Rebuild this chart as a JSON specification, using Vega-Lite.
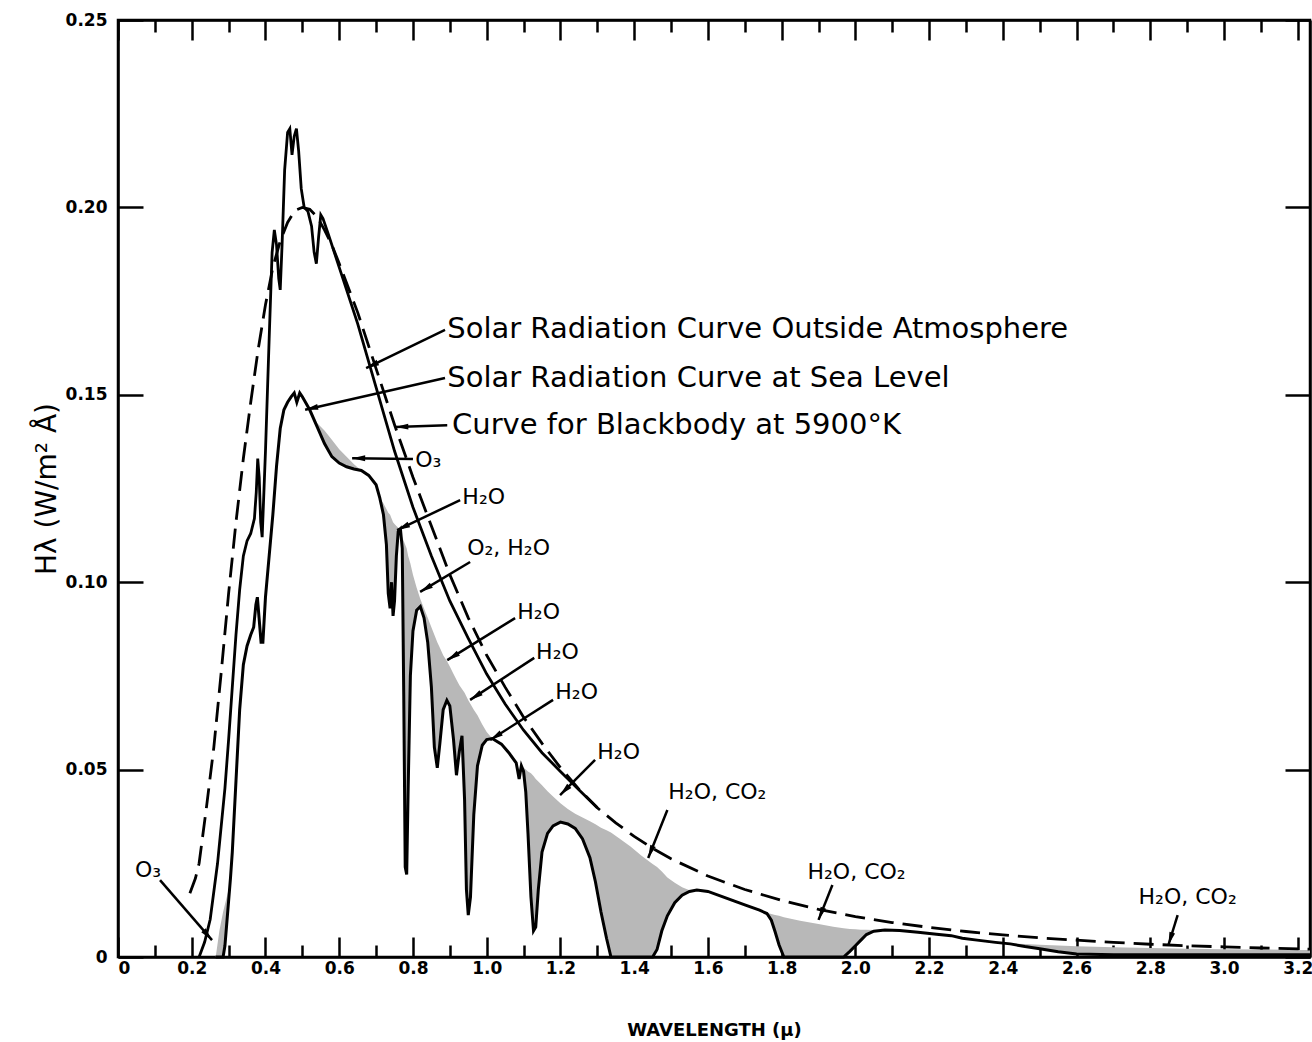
{
"$schema": "https://vega.github.io/schema/vega-lite/v6.json",
"width": 1192,
"height": 937,
"autosize": {"type": "none"},
"padding": {"left": 118, "top": 20, "right": 2, "bottom": 85},
"background": "white",
"config": {
  "view": {"stroke": "black", "strokeWidth": 2.5},
  "font": "DejaVu Sans",
  "axis": {"domainColor": "black", "domainWidth": 2.5, "tickColor": "black", "tickWidth": 2.5, "labelColor": "black", "titleColor": "black", "grid": false, "labelFont": "DejaVu Sans", "titleFont": "DejaVu Sans", "labelOverlap": false}
},
"datasets": {
  "bb": [
    {"x":0.195,"y":0.017},{"x":0.21,"y":0.021},{"x":0.22,"y":0.025},{"x":0.24,"y":0.04},{"x":0.26,"y":0.056},{"x":0.28,"y":0.076},{"x":0.30,"y":0.097},{"x":0.32,"y":0.116},{"x":0.34,"y":0.133},{"x":0.36,"y":0.148},{"x":0.38,"y":0.162},{"x":0.40,"y":0.174},{"x":0.42,"y":0.184},{"x":0.44,"y":0.191},{"x":0.46,"y":0.196},{"x":0.48,"y":0.1992},{"x":0.50,"y":0.2},{"x":0.52,"y":0.1995},{"x":0.54,"y":0.1975},{"x":0.56,"y":0.194},{"x":0.58,"y":0.19},{"x":0.60,"y":0.185},{"x":0.65,"y":0.172},{"x":0.70,"y":0.157},{"x":0.75,"y":0.142},{"x":0.80,"y":0.128},{"x":0.85,"y":0.115},{"x":0.90,"y":0.102},{"x":0.95,"y":0.0905},{"x":1.0,"y":0.0805},{"x":1.05,"y":0.072},{"x":1.1,"y":0.064},{"x":1.15,"y":0.057},{"x":1.2,"y":0.0505},{"x":1.25,"y":0.0448},{"x":1.3,"y":0.0398},{"x":1.35,"y":0.0358},{"x":1.4,"y":0.0322},{"x":1.45,"y":0.029},{"x":1.5,"y":0.0262},{"x":1.6,"y":0.0216},{"x":1.7,"y":0.018},{"x":1.8,"y":0.0151},{"x":1.9,"y":0.0127},{"x":2.0,"y":0.0108},{"x":2.1,"y":0.0092},{"x":2.2,"y":0.0079},{"x":2.3,"y":0.0068},{"x":2.4,"y":0.0059},{"x":2.5,"y":0.0051},{"x":2.6,"y":0.0045},{"x":2.7,"y":0.0039},{"x":2.8,"y":0.0034},{"x":2.9,"y":0.003},{"x":3.0,"y":0.0027},{"x":3.1,"y":0.0024},{"x":3.233,"y":0.0021}
  ],
  "outside": [
    {"x":0.22,"y":0.0},{"x":0.235,"y":0.004},{"x":0.25,"y":0.01},{"x":0.27,"y":0.025},{"x":0.29,"y":0.045},{"x":0.30,"y":0.058},{"x":0.31,"y":0.072},{"x":0.32,"y":0.086},{"x":0.33,"y":0.098},{"x":0.34,"y":0.107},{"x":0.35,"y":0.111},{"x":0.36,"y":0.113},{"x":0.37,"y":0.117},{"x":0.375,"y":0.124},{"x":0.379,"y":0.133},{"x":0.383,"y":0.128},{"x":0.387,"y":0.116},{"x":0.391,"y":0.112},{"x":0.40,"y":0.135},{"x":0.41,"y":0.165},{"x":0.418,"y":0.188},{"x":0.424,"y":0.194},{"x":0.43,"y":0.19},{"x":0.436,"y":0.181},{"x":0.44,"y":0.178},{"x":0.445,"y":0.19},{"x":0.452,"y":0.21},{"x":0.46,"y":0.22},{"x":0.466,"y":0.221},{"x":0.472,"y":0.214},{"x":0.478,"y":0.219},{"x":0.484,"y":0.221},{"x":0.49,"y":0.215},{"x":0.497,"y":0.205},{"x":0.505,"y":0.2},{"x":0.515,"y":0.199},{"x":0.525,"y":0.195},{"x":0.532,"y":0.188},{"x":0.538,"y":0.185},{"x":0.544,"y":0.192},{"x":0.55,"y":0.198},{"x":0.556,"y":0.197},{"x":0.57,"y":0.193},{"x":0.60,"y":0.184},{"x":0.65,"y":0.169},{"x":0.70,"y":0.152},{"x":0.75,"y":0.135},{"x":0.80,"y":0.12},{"x":0.85,"y":0.107},{"x":0.90,"y":0.095},{"x":0.95,"y":0.085},{"x":1.0,"y":0.0755},{"x":1.05,"y":0.0675},{"x":1.1,"y":0.0605},{"x":1.15,"y":0.0545},{"x":1.2,"y":0.0495},{"x":1.25,"y":0.0446},{"x":1.3,"y":0.0398}
  ],
  "sea": [
    {"x":0.265,"sea":0,"top":0},{"x":0.275,"sea":0,"top":0.007},{"x":0.285,"sea":0,"top":0.012},{"x":0.29,"sea":0.003,"top":0.014},{"x":0.295,"sea":0.009,"top":0.016},{"x":0.30,"sea":0.015,"top":0.018},{"x":0.305,"sea":0.021,"top":0.021},{"x":0.31,"sea":0.028,"top":0.028},{"x":0.32,"sea":0.047,"top":0.047},{"x":0.33,"sea":0.066,"top":0.066},{"x":0.34,"sea":0.078,"top":0.078},{"x":0.35,"sea":0.083,"top":0.083},{"x":0.36,"sea":0.086,"top":0.086},{"x":0.368,"sea":0.088,"top":0.088},{"x":0.374,"sea":0.094,"top":0.094},{"x":0.378,"sea":0.096,"top":0.096},{"x":0.383,"sea":0.09,"top":0.09},{"x":0.388,"sea":0.084,"top":0.084},{"x":0.393,"sea":0.084,"top":0.084},{"x":0.40,"sea":0.096,"top":0.096},{"x":0.41,"sea":0.107,"top":0.107},{"x":0.42,"sea":0.118,"top":0.118},{"x":0.43,"sea":0.131,"top":0.131},{"x":0.44,"sea":0.141,"top":0.141},{"x":0.45,"sea":0.146,"top":0.146},{"x":0.46,"sea":0.148,"top":0.148},{"x":0.47,"sea":0.1495,"top":0.1495},{"x":0.478,"sea":0.1505,"top":0.1505},{"x":0.485,"sea":0.148,"top":0.148},{"x":0.493,"sea":0.1505,"top":0.1505},{"x":0.50,"sea":0.1495,"top":0.1495},{"x":0.52,"sea":0.146,"top":0.146},{"x":0.54,"sea":0.1415,"top":0.1425},{"x":0.56,"sea":0.137,"top":0.1405},{"x":0.58,"sea":0.1335,"top":0.138},{"x":0.60,"sea":0.1318,"top":0.1355},{"x":0.62,"sea":0.1308,"top":0.1335},{"x":0.64,"sea":0.1302,"top":0.1315},{"x":0.66,"sea":0.1298,"top":0.1298},{"x":0.68,"sea":0.1285,"top":0.1285},{"x":0.70,"sea":0.126,"top":0.126},{"x":0.71,"sea":0.1225,"top":0.1225},{"x":0.72,"sea":0.118,"top":0.121},{"x":0.728,"sea":0.11,"top":0.1195},{"x":0.733,"sea":0.097,"top":0.1185},{"x":0.738,"sea":0.093,"top":0.118},{"x":0.742,"sea":0.1,"top":0.117},{"x":0.746,"sea":0.091,"top":0.116},{"x":0.75,"sea":0.095,"top":0.1155},{"x":0.755,"sea":0.107,"top":0.115},{"x":0.76,"sea":0.1135,"top":0.1145},{"x":0.766,"sea":0.1142,"top":0.1142},{"x":0.771,"sea":0.109,"top":0.112},{"x":0.775,"sea":0.07,"top":0.111},{"x":0.779,"sea":0.024,"top":0.11},{"x":0.783,"sea":0.022,"top":0.109},{"x":0.787,"sea":0.045,"top":0.107},{"x":0.793,"sea":0.075,"top":0.105},{"x":0.80,"sea":0.087,"top":0.102},{"x":0.81,"sea":0.0925,"top":0.0985},{"x":0.82,"sea":0.0935,"top":0.0955},{"x":0.83,"sea":0.0905,"top":0.093},{"x":0.84,"sea":0.084,"top":0.0905},{"x":0.85,"sea":0.072,"top":0.088},{"x":0.858,"sea":0.056,"top":0.086},{"x":0.866,"sea":0.0505,"top":0.084},{"x":0.873,"sea":0.057,"top":0.0825},{"x":0.882,"sea":0.066,"top":0.0805},{"x":0.892,"sea":0.0685,"top":0.079},{"x":0.90,"sea":0.067,"top":0.0775},{"x":0.91,"sea":0.058,"top":0.0755},{"x":0.918,"sea":0.0485,"top":0.074},{"x":0.926,"sea":0.055,"top":0.0725},{"x":0.933,"sea":0.059,"top":0.0715},{"x":0.94,"sea":0.042,"top":0.0705},{"x":0.945,"sea":0.018,"top":0.0695},{"x":0.95,"sea":0.0112,"top":0.0685},{"x":0.956,"sea":0.016,"top":0.0675},{"x":0.965,"sea":0.038,"top":0.066},{"x":0.975,"sea":0.051,"top":0.0645},{"x":0.988,"sea":0.0565,"top":0.062},{"x":1.0,"sea":0.058,"top":0.06},{"x":1.015,"sea":0.0583,"top":0.0583},{"x":1.04,"sea":0.0568,"top":0.0568},{"x":1.06,"sea":0.0545,"top":0.0545},{"x":1.08,"sea":0.0518,"top":0.0518},{"x":1.088,"sea":0.0475,"top":0.05},{"x":1.094,"sea":0.051,"top":0.051},{"x":1.10,"sea":0.0495,"top":0.0505},{"x":1.106,"sea":0.044,"top":0.05},{"x":1.112,"sea":0.033,"top":0.0495},{"x":1.12,"sea":0.016,"top":0.049},{"x":1.127,"sea":0.007,"top":0.0483},{"x":1.133,"sea":0.008,"top":0.0475},{"x":1.14,"sea":0.018,"top":0.0468},{"x":1.15,"sea":0.028,"top":0.0458},{"x":1.165,"sea":0.033,"top":0.0442},{"x":1.18,"sea":0.035,"top":0.0428},{"x":1.20,"sea":0.036,"top":0.041},{"x":1.22,"sea":0.0355,"top":0.0395},{"x":1.24,"sea":0.0343,"top":0.0382},{"x":1.26,"sea":0.0315,"top":0.0372},{"x":1.28,"sea":0.0265,"top":0.0362},{"x":1.295,"sea":0.02,"top":0.0354},{"x":1.31,"sea":0.012,"top":0.0345},{"x":1.325,"sea":0.005,"top":0.0338},{"x":1.337,"sea":0,"top":0.0332},{"x":1.36,"sea":0,"top":0.0316},{"x":1.39,"sea":0,"top":0.0295},{"x":1.42,"sea":0,"top":0.027},{"x":1.45,"sea":0,"top":0.0248},{"x":1.462,"sea":0.002,"top":0.024},{"x":1.475,"sea":0.007,"top":0.0228},{"x":1.49,"sea":0.011,"top":0.0212},{"x":1.51,"sea":0.0145,"top":0.0198},{"x":1.53,"sea":0.0165,"top":0.0186},{"x":1.55,"sea":0.0175,"top":0.0178},{"x":1.57,"sea":0.0179,"top":0.0179},{"x":1.60,"sea":0.0175,"top":0.0175},{"x":1.65,"sea":0.0157,"top":0.0157},{"x":1.70,"sea":0.0139,"top":0.0139},{"x":1.74,"sea":0.0125,"top":0.0125},{"x":1.76,"sea":0.0116,"top":0.0118},{"x":1.772,"sea":0.0098,"top":0.0115},{"x":1.782,"sea":0.0068,"top":0.0112},{"x":1.793,"sea":0.0032,"top":0.011},{"x":1.806,"sea":0,"top":0.0106},{"x":1.85,"sea":0,"top":0.0097},{"x":1.90,"sea":0,"top":0.0088},{"x":1.94,"sea":0,"top":0.0081},{"x":1.968,"sea":0,"top":0.0077},{"x":1.985,"sea":0.0015,"top":0.0075},{"x":2.0,"sea":0.003,"top":0.0074},{"x":2.015,"sea":0.0045,"top":0.0073},{"x":2.03,"sea":0.006,"top":0.0073},{"x":2.05,"sea":0.0069,"top":0.0072},{"x":2.08,"sea":0.0072,"top":0.0072},{"x":2.12,"sea":0.0071,"top":0.0071},{"x":2.17,"sea":0.0066,"top":0.0066},{"x":2.22,"sea":0.0061,"top":0.0061},{"x":2.26,"sea":0.0057,"top":0.0057},{"x":2.29,"sea":0.005,"top":0.005},{"x":2.33,"sea":0.0045,"top":0.0045},{"x":2.38,"sea":0.0039,"top":0.0039},{"x":2.42,"sea":0.0035,"top":0.0036},{"x":2.46,"sea":0.0028,"top":0.0035},{"x":2.50,"sea":0.0022,"top":0.0033},{"x":2.55,"sea":0.0014,"top":0.0031},{"x":2.60,"sea":0.0008,"top":0.0029},{"x":2.70,"sea":0.0006,"top":0.0026},{"x":2.80,"sea":0.0006,"top":0.0024},{"x":2.90,"sea":0.0006,"top":0.0022},{"x":3.00,"sea":0.0006,"top":0.0021},{"x":3.10,"sea":0.0006,"top":0.002},{"x":3.20,"sea":0.0006,"top":0.0019},{"x":3.233,"sea":0.0006,"top":0.0019}
  ],
  "notes": [
    {"t":"Solar Radiation Curve Outside Atmosphere","kind":"main","x":0.893,"y":0.1676},
    {"t":"Solar Radiation Curve at Sea Level","kind":"main","x":0.893,"y":0.1545},
    {"t":"Curve  for Blackbody at 5900°K","kind":"main","x":0.906,"y":0.1419},
    {"t":"O₃","kind":"chem","x":0.806,"y":0.1326},
    {"t":"H₂O","kind":"chem","x":0.934,"y":0.1227},
    {"t":"O₂,  H₂O","kind":"chem","x":0.947,"y":0.1091},
    {"t":"H₂O","kind":"chem","x":1.083,"y":0.092},
    {"t":"H₂O","kind":"chem","x":1.134,"y":0.0814},
    {"t":"H₂O","kind":"chem","x":1.186,"y":0.0707},
    {"t":"H₂O","kind":"chem","x":1.30,"y":0.0547},
    {"t":"H₂O,  CO₂","kind":"chem","x":1.4925,"y":0.044},
    {"t":"H₂O,  CO₂","kind":"chem","x":1.87,"y":0.0227},
    {"t":"H₂O,  CO₂","kind":"chem","x":2.768,"y":0.016},
    {"t":"O₃","kind":"chem","x":0.046,"y":0.0232}
  ],
  "arrows": [
    {"x":0.887,"y":0.1673,"x2":0.673,"y2":0.1571},
    {"x":0.887,"y":0.1545,"x2":0.5075,"y2":0.146},
    {"x":0.893,"y":0.1419,"x2":0.752,"y2":0.1414},
    {"x":0.80,"y":0.1329,"x2":0.635,"y2":0.1331},
    {"x":0.928,"y":0.1219,"x2":0.757,"y2":0.1139},
    {"x":0.955,"y":0.1054,"x2":0.8195,"y2":0.0974},
    {"x":1.077,"y":0.0904,"x2":0.893,"y2":0.0792},
    {"x":1.129,"y":0.0798,"x2":0.955,"y2":0.0686},
    {"x":1.18,"y":0.0686,"x2":1.0095,"y2":0.0579},
    {"x":1.294,"y":0.0526,"x2":1.199,"y2":0.0432},
    {"x":1.49,"y":0.0392,"x2":1.438,"y2":0.0264},
    {"x":1.9376,"y":0.0192,"x2":1.90,"y2":0.0099},
    {"x":2.874,"y":0.0112,"x2":2.849,"y2":0.0032},
    {"x":0.114,"y":0.0205,"x2":0.255,"y2":0.0045}
  ]
},
"resolve": {"axis": {"x": "independent", "y": "independent"}},
"layer": [
  {
    "data": {"name": "sea"},
    "mark": {"type": "area", "fill": "#b8b8b8", "strokeWidth": 0},
    "encoding": {
      "x": {"field": "x", "type": "quantitative", "scale": {"domain": [0, 3.233], "nice": false, "zero": false},
        "axis": {"orient": "bottom", "values": [0,0.1,0.2,0.3,0.4,0.5,0.6,0.7,0.8,0.9,1.0,1.1,1.2,1.3,1.4,1.5,1.6,1.7,1.8,1.9,2.0,2.1,2.2,2.3,2.4,2.5,2.6,2.7,2.8,2.9,3.0,3.1,3.2],
          "labelExpr": "round(datum.value*10)%2==0 ? (datum.value==0 ? '0' : format(datum.value,'.1f')) : ''",
          "tickSize": {"condition": {"test": "round(datum.value*10)%2==1", "value": -12}, "value": -20},
          "labelFontSize": 17, "labelFontWeight": "bold", "labelPadding": 23,
          "title": "WAVELENGTH (μ)", "titleFontSize": 18, "titleFontWeight": "bold", "titlePadding": 37}},
      "y": {"field": "top", "type": "quantitative", "scale": {"domain": [0, 0.25], "nice": false},
        "axis": {"orient": "left", "values": [0,0.05,0.1,0.15,0.2,0.25],
          "labelExpr": "datum.value==0 ? '0' : format(datum.value,'.2f')",
          "tickSize": -25, "labelFontSize": 17, "labelFontWeight": "bold", "labelPadding": 36,
          "title": "Hλ (W/m² Å)", "titleFontSize": 28, "titleFontWeight": "normal", "titlePadding": 4}},
      "y2": {"field": "sea"}
    }
  },
  {
    "data": {"name": "sea"},
    "mark": {"type": "line", "color": "black", "strokeWidth": 3},
    "encoding": {
      "x": {"field": "x", "type": "quantitative", "axis": null},
      "y": {"field": "sea", "type": "quantitative", "axis": null}
    }
  },
  {
    "data": {"name": "outside"},
    "mark": {"type": "line", "color": "black", "strokeWidth": 2.8},
    "encoding": {
      "x": {"field": "x", "type": "quantitative", "axis": null},
      "y": {"field": "y", "type": "quantitative", "axis": null}
    }
  },
  {
    "data": {"name": "bb"},
    "mark": {"type": "line", "color": "black", "strokeWidth": 2.8, "strokeDash": [20, 9]},
    "encoding": {
      "x": {"field": "x", "type": "quantitative", "axis": null},
      "y": {"field": "y", "type": "quantitative", "axis": null}
    }
  },
  {
    "data": {"name": "arrows"},
    "mark": {"type": "rule", "color": "black", "strokeWidth": 2.5},
    "encoding": {
      "x": {"field": "x", "type": "quantitative", "axis": null},
      "y": {"field": "y", "type": "quantitative", "axis": null},
      "x2": {"field": "x2"},
      "y2": {"field": "y2"}
    }
  },
  {
    "data": {"name": "arrows"},
    "transform": [{"calculate": "atan2((datum.x2-datum.x)*368.5, (datum.y2-datum.y)*3748)*180/PI", "as": "ang"}],
    "mark": {"type": "point", "shape": "M0,0L0.45,2L-0.45,2Z", "filled": true, "color": "black", "opacity": 1, "size": 170},
    "encoding": {
      "x": {"field": "x2", "type": "quantitative", "axis": null},
      "y": {"field": "y2", "type": "quantitative", "axis": null},
      "angle": {"field": "ang", "type": "quantitative", "scale": null}
    }
  },
  {
    "data": {"name": "notes"},
    "transform": [{"filter": "datum.kind=='main'"}],
    "mark": {"type": "text", "align": "left", "baseline": "middle", "fontSize": 29, "font": "DejaVu Sans", "color": "black"},
    "encoding": {
      "x": {"field": "x", "type": "quantitative", "axis": null},
      "y": {"field": "y", "type": "quantitative", "axis": null},
      "text": {"field": "t"}
    }
  },
  {
    "data": {"name": "notes"},
    "transform": [{"filter": "datum.kind=='chem'"}],
    "mark": {"type": "text", "align": "left", "baseline": "middle", "fontSize": 22, "font": "DejaVu Sans", "color": "black"},
    "encoding": {
      "x": {"field": "x", "type": "quantitative", "axis": null},
      "y": {"field": "y", "type": "quantitative", "axis": null},
      "text": {"field": "t"}
    }
  },
  {
    "data": {"name": "bb"},
    "mark": {"type": "point", "opacity": 0},
    "encoding": {
      "x": {"field": "x", "type": "quantitative",
        "axis": {"orient": "top", "values": [0,0.1,0.2,0.3,0.4,0.5,0.6,0.7,0.8,0.9,1.0,1.1,1.2,1.3,1.4,1.5,1.6,1.7,1.8,1.9,2.0,2.1,2.2,2.3,2.4,2.5,2.6,2.7,2.8,2.9,3.0,3.1,3.2],
          "labels": false, "title": null,
          "tickSize": {"condition": {"test": "round(datum.value*10)%2==1", "value": -12}, "value": -20}}},
      "y": {"field": "y", "type": "quantitative",
        "axis": {"orient": "right", "values": [0,0.05,0.1,0.15,0.2,0.25], "labels": false, "title": null, "tickSize": -25}}
    }
  }
]
}
